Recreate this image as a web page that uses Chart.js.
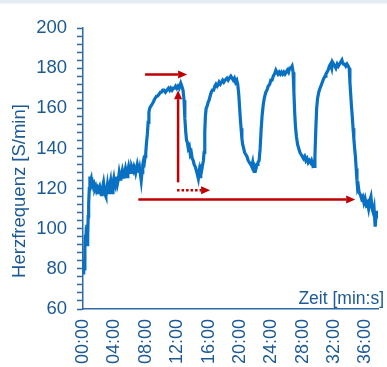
<!DOCTYPE html>
<html>
<head>
<meta charset="utf-8">
<script src="https://cdn.jsdelivr.net/npm/chart.js@4/dist/chart.umd.min.js"></script>
<style>
  html, body { margin: 0; padding: 0; background: #fff; }
  #wrap { width: 387px; height: 367px; position: relative; }
</style>
</head>
<body>
<div id="wrap"><canvas id="hr_chart"></canvas></div>
<script>
// time in minutes, heart rate in beats per minute
const timeMin = [
  0.00, 0.06, 0.12, 0.18, 0.24, 0.30, 0.36, 0.42, 0.48, 0.54, 0.60, 0.66, 0.72, 0.80, 0.88, 0.96,
  1.04, 1.12, 1.22, 1.32, 1.42, 1.52, 1.62, 1.72, 1.82, 1.92, 2.02, 2.12, 2.22, 2.32, 2.42, 2.52,
  2.62, 2.72, 2.82, 2.92, 3.02, 3.12, 3.22, 3.32, 3.42, 3.52, 3.62, 3.72, 3.82, 3.92, 4.02, 4.12,
  4.22, 4.32, 4.42, 4.52, 4.62, 4.72, 4.82, 4.92, 5.02, 5.12, 5.22, 5.32, 5.42, 5.52, 5.62, 5.72,
  5.82, 5.92, 6.02, 6.12, 6.22, 6.32, 6.42, 6.52, 6.62, 6.72, 6.82, 6.92, 7.02, 7.12, 7.22, 7.32,
  7.42, 7.52, 7.62, 7.72, 7.82, 7.92, 8.00, 8.10, 8.20, 8.30, 8.40, 8.50, 8.64, 8.80, 8.95, 9.06,
  9.20, 9.35, 9.50, 9.69, 9.85, 10.00, 10.15, 10.33, 10.50, 10.70, 10.90, 11.05, 11.19, 11.35, 11.50, 11.65,
  11.80, 11.95, 12.10, 12.25, 12.46, 12.60, 12.75, 12.88, 12.98, 13.10, 13.20, 13.30, 13.42, 13.55, 13.68, 13.80,
  13.92, 14.05, 14.16, 14.30, 14.45, 14.58, 14.70, 14.80, 14.92, 15.01, 15.12, 15.25, 15.35, 15.43, 15.52, 15.60,
  15.70, 15.82, 15.95, 16.07, 16.20, 16.35, 16.49, 16.65, 16.80, 16.95, 17.10, 17.25, 17.35, 17.50, 17.65, 17.80,
  17.95, 18.10, 18.20, 18.35, 18.50, 18.65, 18.84, 19.00, 19.15, 19.30, 19.45, 19.60, 19.72, 19.85, 19.95, 20.05,
  20.15, 20.25, 20.35, 20.48, 20.60, 20.75, 20.90, 21.05, 21.20, 21.39, 21.50, 21.62, 21.72, 21.81, 21.92, 22.05,
  22.18, 22.30, 22.45, 22.58, 22.70, 22.82, 22.95, 23.10, 23.30, 23.45, 23.60, 23.80, 23.94, 24.10, 24.25, 24.40,
  24.58, 24.70, 24.85, 25.00, 25.15, 25.30, 25.45, 25.60, 25.75, 25.90, 26.05, 26.20, 26.35, 26.50, 26.65, 26.78,
  26.88, 26.98, 27.08, 27.20, 27.35, 27.50, 27.65, 27.80, 27.95, 28.10, 28.25, 28.40, 28.55, 28.70, 28.85, 29.00,
  29.12, 29.25, 29.38, 29.46, 29.56, 29.66, 29.78, 29.90, 30.05, 30.20, 30.32, 30.50, 30.70, 30.85, 30.96, 31.10,
  31.25, 31.40, 31.55, 31.70, 31.80, 31.95, 32.10, 32.23, 32.40, 32.55, 32.70, 32.85, 33.00, 33.07, 33.20, 33.35,
  33.50, 33.65, 33.80, 33.93, 34.02, 34.12, 34.22, 34.32, 34.42, 34.52, 34.62, 34.72, 34.82, 34.92, 35.00, 35.10,
  35.20, 35.35, 35.50, 35.65, 35.80, 35.95, 36.10, 36.25, 36.40, 36.55, 36.70, 36.85, 37.00, 37.10, 37.24, 37.35,
  37.45
];
const heartRate = [
  78, 81, 85, 80, 90, 97, 94, 100, 102, 92, 96, 106, 112, 120, 126, 124,
  125, 122, 123, 121, 122, 120, 121, 119, 120, 118, 120, 121, 119, 117, 118, 121,
  123, 120, 117, 116, 119, 122, 119, 118, 122, 124, 120, 118, 123, 125, 122, 121,
  124, 126, 123, 125, 128, 126, 124, 127, 129, 127, 125, 128, 130, 128, 126, 129,
  131, 129, 130, 128, 131, 130, 129, 131, 130, 128, 130, 132, 130, 128, 130, 127,
  124, 128, 132, 134, 133, 136, 138, 143, 147, 153, 158, 160, 161, 162, 163, 164,
  165, 166, 166, 167, 168, 168, 169, 169, 168, 169, 170, 169, 170, 169, 170, 170,
  171, 170, 171, 170, 172.5, 171, 169, 164, 155, 148, 144, 143, 140, 141, 137, 138,
  135, 134, 132, 131, 129, 127, 125, 128, 126, 130, 129, 132, 134, 138, 148, 156,
  160, 161, 163, 164, 166, 168, 169, 169, 171, 172, 171, 172, 173, 172, 173, 174,
  173, 174, 174, 175, 174, 175, 176, 175, 174, 175, 173, 174, 172, 167, 161, 155,
  150, 145, 142, 140, 138, 137, 136, 134, 133, 132, 131, 133, 130, 128.5, 131, 130,
  132, 133, 134, 140, 149, 156, 161, 165, 168, 169, 171, 172, 174, 174, 176, 177,
  179, 178, 177, 178, 177, 178, 177, 178, 177, 178, 179, 178, 180, 180, 181, 178,
  168, 158, 151, 146, 142, 140, 138, 137, 136, 135, 136, 134, 135, 133, 134, 133,
  134, 132, 133, 131, 136, 148, 160, 165, 168, 170, 171, 173, 175, 176, 177, 178,
  179, 181, 182, 180, 183, 182, 181, 180, 182, 181, 182, 183, 184, 183, 182, 182,
  181, 182, 181, 180, 173, 167, 161, 156, 150, 145, 140, 136, 130, 124, 120, 121,
  118, 117, 115, 116, 113, 115, 112, 113, 110, 114, 116, 110, 108, 110, 101, 106,
  109
];

const yTitle = 'Herzfrequenz [S/min]';
const xTitle = 'Zeit [min:s]';

// red annotation arrows, in data units (minutes / beats)
const arrowX0 = [7.91, 12.12, 11.99, 7.05];
const arrowY0 = [176.8, 123.1, 119.2, 114.6];
const arrowX1 = [13.27, 12.12, 16.2, 34.69];
const arrowY1 = [176.8, 169.0, 119.2, 114.6];
const arrowDotted = [false, false, true, false];

const TEXT = '#1c5a96';
const AXIS = '#2e6aa6';
const LINE = '#0a70c2';
const RED = '#c00000';
const FONT = '"Liberation Sans", Arial, sans-serif';

const isStep = (v, step) => Math.abs(v / step - Math.round(v / step)) < 1e-6;

const decor = {
  id: 'decor',
  beforeDraw(chart) {
    const { ctx } = chart;
    ctx.save();
    ctx.fillStyle = '#e5ecf3';
    ctx.fillRect(0, 0, chart.width, 3.5);
    ctx.restore();
  },
  afterDatasetsDraw(chart) {
    const { ctx, scales: { x, y } } = chart;
    ctx.save();
    ctx.strokeStyle = RED;
    ctx.fillStyle = RED;
    ctx.lineWidth = 2.5;
    for (let i = 0; i < arrowX0.length; i++) {
      const ax = x.getPixelForValue(arrowX0[i]);
      const ay = y.getPixelForValue(arrowY0[i]);
      const bx = x.getPixelForValue(arrowX1[i]);
      const by = y.getPixelForValue(arrowY1[i]);
      const ang = Math.atan2(by - ay, bx - ax);
      const head = 9;
      const half = 4;
      const ex = bx - Math.cos(ang) * head;
      const ey = by - Math.sin(ang) * head;
      ctx.setLineDash(arrowDotted[i] ? [2.5, 2] : []);
      ctx.beginPath();
      ctx.moveTo(ax, ay);
      ctx.lineTo(ex, ey);
      ctx.stroke();
      ctx.setLineDash([]);
      ctx.beginPath();
      ctx.moveTo(bx, by);
      ctx.lineTo(ex - Math.sin(ang) * half, ey + Math.cos(ang) * half);
      ctx.lineTo(ex + Math.sin(ang) * half, ey - Math.cos(ang) * half);
      ctx.closePath();
      ctx.fill();
    }
    ctx.restore();
  },
  afterDraw(chart) {
    const { ctx, chartArea } = chart;
    ctx.save();
    ctx.fillStyle = TEXT;
    ctx.font = '18.5px ' + FONT;
    ctx.textBaseline = 'middle';
    ctx.textAlign = 'center';
    ctx.translate(20, 191);
    ctx.rotate(-Math.PI / 2);
    ctx.fillText(yTitle, 0, 0);
    ctx.restore();

    ctx.save();
    ctx.fillStyle = TEXT;
    ctx.font = '17.5px ' + FONT;
    ctx.textAlign = 'right';
    ctx.textBaseline = 'alphabetic';
    ctx.fillText(xTitle, 384, chartArea.bottom - 5);
    ctx.restore();
  },
};

new Chart(document.getElementById('hr_chart'), {
  type: 'line',
  data: {
    datasets: [{
      data: timeMin.map((t, i) => ({ x: t, y: heartRate[i] })),
      borderColor: LINE,
      borderWidth: 3.2,
      pointRadius: 0,
      tension: 0,
      fill: false,
    }],
  },
  options: {
    responsive: true,
    maintainAspectRatio: false,
    animation: false,
    devicePixelRatio: 1,
    layout: { padding: { top: 28, right: 9, left: 1, bottom: 0 } },
    plugins: { legend: { display: false }, tooltip: { enabled: false } },
    scales: {
      x: {
        type: 'linear',
        bounds: 'data',
        min: 0,
        max: 37.6,
        afterBuildTicks: (scale) => {
          const ticks = [];
          for (let v = 0; v <= 37.6; v += 4) ticks.push({ value: v });
          scale.ticks = ticks;
        },
        afterFit: (scale) => {
          scale.height = 58;
          scale.paddingLeft = 0;
          scale.paddingRight = 0;
        },
        grid: { drawOnChartArea: false, drawTicks: false },
        border: { color: AXIS, width: 1.5 },
        ticks: {
          autoSkip: false,
          minRotation: 90,
          maxRotation: 90,
          padding: 10,
          color: TEXT,
          font: { family: FONT, size: 18 },
          callback: (v) => String(Math.round(v)).padStart(2, '0') + ':00',
        },
      },
      y: {
        min: 60,
        max: 200,
        afterFit: (scale) => { scale.width = 82; },
        grid: { drawOnChartArea: false, drawTicks: true, tickLength: 6, tickColor: AXIS, tickWidth: 1.5 },
        border: { color: AXIS, width: 1.5 },
        ticks: {
          stepSize: 4,
          autoSkip: false,
          padding: 10,
          color: TEXT,
          font: { family: FONT, size: 18.5 },
          callback: (v) => (isStep(v, 20) ? String(Math.round(v)) : ''),
        },
      },
    },
  },
  plugins: [decor],
});
</script>
</body>
</html>
